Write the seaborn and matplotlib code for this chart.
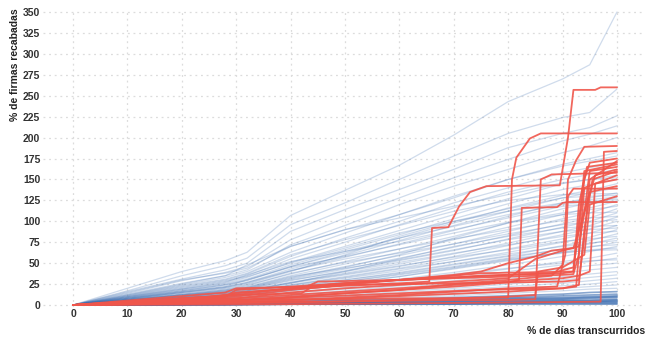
import numpy as np
import pandas as pd
import matplotlib
matplotlib.use("Agg")
import matplotlib.pyplot as plt
import seaborn as sns

# ---------------- data ----------------
blue_x = [0, 10, 20, 28, 32, 40, 50, 60, 70, 80, 90, 95, 100]

blue_top = [
    [0, 20, 40, 53, 63, 107, 137, 167, 203, 243, 270, 287, 350],
    [0, 17, 35, 47, 56, 96, 122, 150, 178, 205, 224, 230, 258],
    [0, 16, 31, 42, 50, 88, 114, 138, 162, 188, 205, 212, 226],
    [0, 14, 29, 39, 46, 78, 104, 128, 152, 174, 196, 204, 214],
    [0, 13, 26, 35, 42, 72, 95, 120, 142, 162, 182, 190, 200],
    [0, 15, 30, 38, 44, 70, 90, 108, 128, 150, 168, 175, 182],
]
blue_upper = [
    [0, 12, 24, 33, 40, 63, 86, 108, 130, 150, 166, 172, 178],
    [0, 11, 22, 30, 37, 58, 80, 100, 122, 140, 158, 164, 170],
    [0, 10, 21, 29, 35, 55, 75, 96, 116, 135, 150, 156, 162],
    [0, 10, 19, 26, 33, 51, 70, 89, 108, 127, 145, 150, 155],
    [0, 9, 18, 25, 31, 48, 66, 84, 103, 121, 138, 144, 150],
    [0, 9, 17, 24, 29, 46, 62, 80, 98, 116, 131, 137, 145],
    [0, 8, 16, 22, 27, 43, 59, 77, 95, 112, 128, 134, 140],
    [0, 8, 15, 21, 26, 41, 57, 73, 89, 106, 122, 128, 134],
    [0, 11, 23, 31, 38, 60, 78, 95, 112, 125, 132, 133, 133],
    [0, 7, 15, 20, 25, 40, 60, 82, 100, 115, 128, 130, 131],
    [0, 12, 25, 35, 48, 70, 90, 104, 118, 132, 146, 150, 152],
]
blue_mid = [
    [0, 7, 14, 19, 24, 37, 52, 67, 82, 98, 115, 122, 128],
    [0, 7, 13, 18, 22, 35, 49, 63, 78, 93, 108, 116, 124],
    [0, 6, 12, 17, 21, 33, 46, 59, 73, 88, 103, 110, 120],
    [0, 6, 12, 16, 20, 31, 43, 56, 69, 83, 97, 104, 115],
    [0, 6, 11, 15, 19, 29, 41, 53, 65, 79, 93, 100, 110],
    [0, 5, 10, 14, 18, 27, 38, 49, 61, 74, 88, 95, 105],
    [0, 5, 10, 13, 17, 26, 36, 46, 58, 71, 84, 91, 100],
    [0, 5, 9, 12, 16, 24, 34, 44, 55, 67, 79, 86, 95],
    [0, 4, 9, 12, 15, 23, 32, 41, 52, 63, 75, 81, 90],
    [0, 4, 8, 11, 14, 21, 30, 39, 49, 59, 71, 77, 85],
    [0, 4, 8, 11, 13, 20, 28, 37, 46, 56, 67, 73, 80],
    [0, 4, 7, 10, 12, 18, 26, 34, 43, 53, 63, 69, 75],
    [0, 3, 7, 9, 12, 17, 24, 31, 39, 48, 58, 64, 70],
    [0, 6, 12, 16, 20, 32, 45, 60, 80, 98, 108, 110, 111],
    [0, 5, 10, 14, 17, 26, 40, 55, 70, 82, 92, 94, 95],
]
blue_extra = [
    [0, 9, 19, 27, 36, 52, 64, 76, 90, 104, 118, 121, 124],
    [0, 8, 16, 22, 30, 45, 58, 72, 86, 99, 110, 114, 118],
    [0, 7, 15, 21, 27, 41, 55, 67, 79, 90, 101, 104, 106],
    [0, 6, 13, 18, 23, 38, 51, 62, 73, 85, 96, 99, 102],
    [0, 6, 12, 17, 21, 34, 44, 54, 66, 78, 88, 90, 92],
    [0, 5, 11, 15, 19, 30, 40, 51, 62, 72, 82, 86, 88],
    [0, 5, 10, 14, 17, 27, 37, 47, 57, 66, 76, 79, 82],
    [0, 4, 9, 12, 15, 24, 33, 43, 52, 61, 70, 74, 77],
    [0, 4, 8, 11, 14, 22, 30, 38, 48, 58, 66, 70, 72],
    [0, 3, 7, 10, 12, 19, 26, 34, 44, 54, 62, 66, 68],
    [0, 10, 20, 28, 34, 50, 68, 86, 100, 112, 122, 126, 129],
    [0, 8, 17, 24, 30, 46, 64, 80, 94, 108, 120, 124, 126],
]
blue_low = [
    [0, 3, 6, 8, 10, 15, 21, 28, 35, 43, 52, 56, 62],
    [0, 3, 6, 8, 9, 14, 19, 25, 32, 40, 48, 52, 56],
    [0, 3, 5, 7, 8, 12, 17, 23, 29, 36, 43, 47, 50],
    [0, 2, 5, 6, 8, 11, 16, 21, 26, 32, 38, 42, 45],
    [0, 2, 4, 6, 7, 10, 14, 18, 23, 28, 34, 37, 40],
    [0, 2, 4, 5, 6, 9, 12, 16, 20, 25, 30, 33, 36],
    [0, 2, 3, 4, 5, 8, 11, 14, 18, 22, 26, 29, 32],
    [0, 2, 3, 4, 5, 7, 10, 12, 15, 19, 23, 25, 28],
    [0, 1, 3, 4, 4, 6, 8, 11, 13, 16, 20, 22, 24],
    [0, 1, 2, 3, 4, 5, 7, 9, 11, 14, 17, 19, 20],
    [0, 4, 8, 11, 13, 20, 28, 36, 45, 55, 63, 65, 66],
    [0, 3, 7, 9, 11, 17, 24, 30, 37, 44, 50, 53, 54],
]
blue_floor = [
    [0, 1, 2, 3, 3, 4, 6, 7, 9, 11, 13, 15, 16],
    [0, 1, 2, 2, 3, 4, 5, 6, 8, 9, 11, 12, 13],
    [0, 1, 1, 2, 2, 3, 4, 5, 6, 8, 9, 10, 11],
    [0, 1, 1, 2, 2, 3, 3, 4, 5, 6, 7, 8, 9],
    [0, 0, 1, 1, 2, 2, 3, 3, 4, 5, 6, 6, 7],
    [0, 0, 1, 1, 1, 2, 2, 3, 3, 4, 5, 5, 6],
    [0, 0, 1, 1, 1, 1, 2, 2, 3, 3, 4, 4, 5],
    [0, 0, 0, 1, 1, 1, 1, 2, 2, 2, 3, 3, 3],
    [0, 0, 0, 0, 1, 1, 1, 1, 1, 2, 2, 2, 2],
    [0, 0, 0, 0, 0, 1, 1, 1, 1, 1, 1, 1, 1],
    [0, 1, 2, 2, 3, 3, 4, 5, 6, 7, 8, 9, 10],
    [0, 0, 1, 1, 1, 2, 2, 2, 3, 3, 4, 4, 4],
]

red_x_01 = [0, 27, 30, 40, 50, 60, 63, 65.5, 66, 69, 71, 73, 76, 89.5, 91, 92, 96, 97, 100]
red_y_01 = [0, 8, 15, 19, 23, 26, 27, 28, 92, 93, 118, 135, 142, 143, 200, 257, 257, 260, 260]
red_x_02 = [0, 20, 30, 40, 50, 60, 70, 80, 80.7, 81.5, 84, 86, 100]
red_y_02 = [0, 3, 6, 7, 7, 8, 8, 9, 150, 176, 199, 205, 205]
red_x_03 = [0, 30, 40, 50, 60, 70, 80, 88, 90, 91, 92.5, 94, 100]
red_y_03 = [0, 6, 10, 14, 18, 25, 30, 35, 48, 150, 173, 189, 190]
red_x_04 = [0, 40, 60, 80, 97, 97.6, 100]
red_y_04 = [0, 1, 2, 3, 4, 183, 184]
red_x_05 = [0, 28, 30, 40, 50, 60, 70, 75, 88, 92, 93, 94, 95, 100]
red_y_05 = [0, 10, 18, 22, 26, 30, 33, 35, 38, 45, 90, 150, 170, 175]
red_x_06 = [0, 30, 45, 60, 70, 80, 85, 86, 88, 100]
red_y_06 = [0, 3, 4, 5, 6, 6, 7, 150, 156, 158]
red_x_07 = [0, 25, 30, 40, 50, 60, 70, 80, 90, 92, 93, 94.5, 100]
red_y_07 = [0, 10, 14, 20, 26, 30, 33, 36, 38, 40, 120, 165, 170]
red_x_08 = [0, 30, 40, 50, 60, 70, 80, 85, 90, 93, 94, 95, 100]
red_y_08 = [0, 8, 15, 20, 24, 28, 32, 55, 65, 70, 110, 160, 165]
red_x_09 = [0, 30, 40, 50, 60, 70, 75, 80, 85, 88, 92, 94, 96, 100]
red_y_09 = [0, 10, 18, 24, 30, 36, 40, 50, 58, 65, 68, 110, 155, 162]
red_x_10 = [0, 30, 40, 50, 60, 70, 80, 82, 82.5, 89, 90, 91, 100]
red_y_10 = [0, 5, 9, 14, 18, 22, 27, 30, 116, 117, 122, 123, 123]
red_x_11 = [0, 30, 40, 50, 60, 70, 80, 89, 90.5, 91, 92, 100]
red_y_11 = [0, 4, 6, 9, 12, 16, 20, 22, 60, 130, 139, 139]
red_x_12 = [0, 28, 30, 43, 45, 60, 64, 70, 75, 92, 93, 94, 100]
red_y_12 = [0, 15, 20, 22, 28, 30, 32, 35, 38, 40, 100, 160, 168]
red_x_13 = [0, 30, 45, 60, 75, 90, 92.5, 93.5, 95, 100]
red_y_13 = [0, 6, 10, 14, 18, 20, 22, 100, 135, 142]
red_x_14 = [0, 30, 42, 44, 50, 60, 70, 80, 90, 93, 94, 95, 100]
red_y_14 = [0, 12, 14, 22, 24, 25, 26, 27, 28, 30, 80, 150, 172]
red_x_15 = [0, 30, 40, 50, 60, 70, 80, 90, 92, 93, 94, 100]
red_y_15 = [0, 12, 20, 26, 30, 32, 34, 36, 37, 60, 140, 155]
red_x_16 = [0, 35, 50, 65, 80, 90, 93, 94, 95.5, 100]
red_y_16 = [0, 4, 8, 12, 16, 20, 24, 90, 150, 160]
red_x_17 = [0, 40, 55, 70, 80, 85, 85.5, 90, 94, 95, 100]
red_y_17 = [0, 3, 5, 8, 10, 12, 40, 45, 60, 120, 130]
red_x_18 = [0, 30, 40, 50, 60, 70, 80, 90, 93, 95, 96, 100]
red_y_18 = [0, 8, 12, 16, 20, 24, 28, 32, 35, 40, 145, 150]

red_x = [red_x_01, red_x_02, red_x_03, red_x_04, red_x_05, red_x_06,
         red_x_07, red_x_08, red_x_09, red_x_10, red_x_11, red_x_12,
         red_x_13, red_x_14, red_x_15, red_x_16, red_x_17, red_x_18]
red_y = [red_y_01, red_y_02, red_y_03, red_y_04, red_y_05, red_y_06,
         red_y_07, red_y_08, red_y_09, red_y_10, red_y_11, red_y_12,
         red_y_13, red_y_14, red_y_15, red_y_16, red_y_17, red_y_18]

x_ticks = [0, 10, 20, 30, 40, 50, 60, 70, 80, 90, 100]
y_ticks = [0, 25, 50, 75, 100, 125, 150, 175, 200, 225, 250, 275, 300, 325, 350]
x_label = "% de días transcurridos"
y_label = "% de firmas recabadas"

# ---------------- frames ----------------
def blue_frame(groups):
    rows = []
    uid = 0
    for g in groups:
        for line in g:
            for xv, yv in zip(blue_x, line):
                rows.append((uid, xv, yv))
            uid += 1
    return pd.DataFrame(rows, columns=["id", "x", "y"])

df_blue = blue_frame([blue_top, blue_upper, blue_mid, blue_extra, blue_low])
df_floor = blue_frame([blue_floor])

rows = []
for i, (xs, ys) in enumerate(zip(red_x, red_y)):
    for xv, yv in zip(xs, ys):
        rows.append((i, xv, yv))
df_red = pd.DataFrame(rows, columns=["id", "x", "y"])

# ---------------- plot ----------------
sns.set_theme(style="white")
plt.rcParams["font.family"] = ["Liberation Sans", "DejaVu Sans"]

fig = plt.figure(figsize=(6.5, 3.45), dpi=100)
ax = fig.add_axes([0.0663, 0.111, 0.9247, 0.859])

blue = "#3a6cb0"
red = "#f0564b"

sns.lineplot(data=df_blue, x="x", y="y", units="id", estimator=None,
             color=blue, alpha=0.24, lw=0.9, ax=ax, legend=False)
sns.lineplot(data=df_floor, x="x", y="y", units="id", estimator=None,
             color=blue, alpha=0.6, lw=1.2, ax=ax, legend=False)
sns.lineplot(data=df_red, x="x", y="y", units="id", estimator=None,
             color=red, alpha=0.9, lw=1.3, ax=ax, legend=False)

ax.set_xlim(-5.5, 105)
ax.set_ylim(-2, 352)
ax.set_xticks(x_ticks)
ax.set_yticks(y_ticks)
ax.grid(True, color="#dcdcdc", linestyle=(0, (1.5, 3)), linewidth=0.9)
ax.set_axisbelow(True)
for s in ax.spines.values():
    s.set_visible(False)
ax.tick_params(axis="both", length=0, labelsize=7.5, labelcolor="#333333", pad=2)
for lab in ax.get_xticklabels() + ax.get_yticklabels():
    lab.set_fontweight("bold")
ax.set_xlabel("")
ax.set_ylabel("")

fig.text(0.023, 0.975, y_label, rotation=90, ha="center", va="top",
         fontsize=7.5, fontweight="bold", color="#222222")
fig.text(0.992, 0.025, x_label, ha="right", va="bottom",
         fontsize=7.5, fontweight="bold", color="#222222")

fig.savefig("out.png", dpi=100)
